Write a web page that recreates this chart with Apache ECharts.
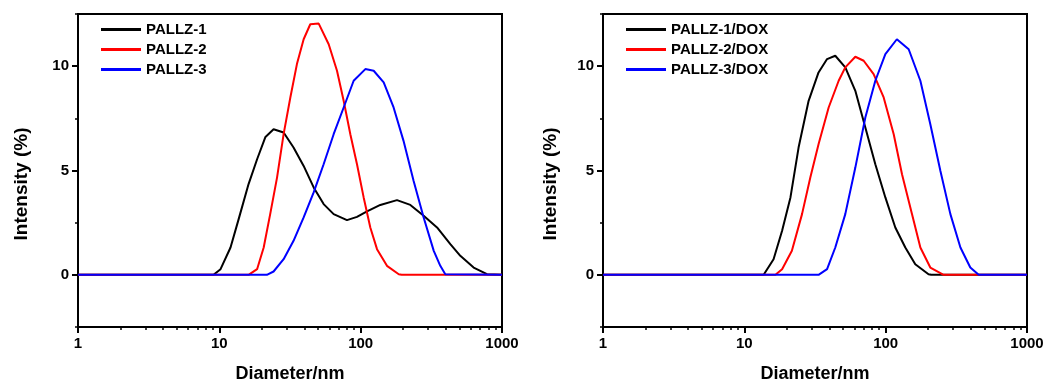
<!DOCTYPE html>
<html>
<head>
<meta charset="utf-8">
<script src="https://cdn.jsdelivr.net/npm/echarts@6/dist/echarts.min.js"></script>
<style>
html,body{margin:0;padding:0;background:#fff;}
#c{width:1049px;height:388px;}
</style>
</head>
<body>
<div id="c"></div>
<script>
// ---- Data (diameter nm, intensity %) ----
const pallz1 = [[1,0],[9.1,0],[10.2,0.27],[12.0,1.31],[13.7,2.67],[16.1,4.35],[18.5,5.54],[21.2,6.61],[24.2,6.98],[28.5,6.82],[33.5,6.1],[39.5,5.22],[46.5,4.19],[54.7,3.39],[64.4,2.91],[80,2.62],[94.2,2.78],[110.9,3.04],[137.7,3.35],[180.7,3.58],[224.6,3.35],[279,2.83],[347,2.27],[431,1.47],[507,0.91],[630,0.35],[783,0.03],[800,0],[1000,0]];
const pallz2 = [[1,0],[16.1,0],[18.5,0.27],[20.6,1.31],[22.9,2.91],[25.6,4.66],[28.5,6.74],[31.8,8.5],[35.4,10.1],[39.5,11.29],[44.0,12.01],[50.5,12.04],[59.4,11.05],[68,9.78],[75.8,8.34],[84.5,6.74],[94.2,5.3],[105,3.71],[117,2.27],[130.5,1.23],[153.5,0.43],[186,0.03],[195,0],[1000,0]];
const pallz3 = [[1,0],[21.7,0],[24.2,0.16],[28.5,0.75],[33.5,1.63],[39.5,2.75],[46.5,3.95],[54.7,5.3],[64.4,6.74],[75.8,8.02],[89.2,9.3],[107.9,9.86],[123.6,9.78],[145.5,9.22],[171,8.02],[201,6.42],[237,4.5],[279,2.75],[329,1.15],[366,0.43],[397,0.03],[410,0],[1000,0]];
const dox1 = [[1,0],[13.7,0],[16.1,0.75],[18.5,2.11],[21.2,3.71],[24.2,6.1],[28.5,8.34],[33.5,9.7],[38.5,10.34],[44.0,10.5],[51.8,9.94],[61,8.82],[71.8,7.06],[84.5,5.3],[99.5,3.71],[117,2.27],[137.7,1.31],[162,0.51],[201,0.03],[210,0],[1000,0]];
const dox2 = [[1,0],[16.6,0],[18.5,0.27],[21.7,1.15],[25.6,2.91],[29.3,4.66],[33.5,6.26],[39.5,8.02],[46.5,9.3],[51.8,9.94],[61,10.45],[69.9,10.26],[82.2,9.62],[96.8,8.5],[114,6.74],[130.5,4.82],[153.5,2.91],[176,1.31],[207,0.35],[257,0],[1000,0]];
const dox3 = [[1,0],[33.5,0],[38.5,0.27],[44,1.31],[51.8,2.91],[61,5.14],[71.8,7.54],[84.5,9.3],[99.5,10.58],[120,11.29],[145.5,10.81],[176,9.3],[207,7.22],[244,4.98],[287,2.91],[338,1.31],[397,0.35],[455,0],[1000,0]];

const namesLeft = ['PALLZ-1','PALLZ-2','PALLZ-3'];
const namesRight = ['PALLZ-1/DOX','PALLZ-2/DOX','PALLZ-3/DOX'];
const colors = ['#000000','#ff0000','#0000ff'];
const yMajor = [0,5,10];
const xMinor = [2,3,4,5,6,7,8,9,20,30,40,50,60,70,80,90,200,300,400,500,600,700,800,900];

const FONT = 'Liberation Sans';
const grids = [
  {left:78, top:14, width:424, height:313, show:true, borderColor:'#000', borderWidth:2, backgroundColor:'transparent'},
  {left:603, top:14, width:424, height:313, show:true, borderColor:'#000', borderWidth:2, backgroundColor:'transparent'}
];

function xAxes(gi){
  return [
    {type:'log', logBase:10, min:1, max:1000, gridIndex:gi, position:'bottom',
     name:'Diameter/nm', nameLocation:'middle', nameGap:38,
     nameTextStyle:{fontFamily:FONT, fontWeight:'bold', fontSize:18, color:'#000'},
     axisLine:{onZero:false, lineStyle:{color:'#000', width:2}},
     axisTick:{inside:false, length:6, lineStyle:{color:'#000', width:2}},
     axisLabel:{fontFamily:FONT, fontWeight:'bold', fontSize:15, color:'#000', margin:9,
       formatter:function(v){return String(Math.round(v));}},
     splitLine:{show:false}},
    {type:'log', logBase:10, min:1, max:1000, gridIndex:gi, position:'bottom',
     axisLine:{show:false, onZero:false},
     axisTick:{show:true, length:3, customValues:xMinor, lineStyle:{color:'#000', width:1.5}},
     axisLabel:{show:false}, splitLine:{show:false}}
  ];
}
function yAxes(gi){
  return [
    {type:'value', min:-2.5, max:12.5, interval:2.5, gridIndex:gi, position:'left',
     axisLine:{show:true, onZero:false, lineStyle:{color:'#000', width:2}},
     axisTick:{show:true, length:6, customValues:yMajor, lineStyle:{color:'#000', width:2}},
     axisLabel:{customValues:yMajor, fontFamily:FONT, fontWeight:'bold', fontSize:15, color:'#000', margin:9},
     splitLine:{show:false}},
    {type:'value', min:-2.5, max:12.5, interval:2.5, gridIndex:gi, position:'left', offset:0,
     axisLine:{show:false, onZero:false},
     axisTick:{show:true, length:3, lineStyle:{color:'#000', width:1.5}},
     axisLabel:{show:false}, splitLine:{show:false}}
  ];
}

function mkSeries(name, data, color, xi, yi){
  return {name:name, type:'line', data:data, xAxisIndex:xi, yAxisIndex:yi,
    symbol:'none', showSymbol:false, smooth:false,
    lineStyle:{color:color, width:2}, itemStyle:{color:color}, animation:false};
}

const legendText = {fontFamily:FONT, fontWeight:'bold', fontSize:15, color:'#000'};
const option = {
  animation:false,
  backgroundColor:'#fff',
  grid: grids,
  xAxis: xAxes(0).concat(xAxes(1)),
  yAxis: yAxes(0).concat(yAxes(1)),
  legend: [
    {data:namesLeft, orient:'vertical', left:101, top:22, padding:0, icon:'rect', itemWidth:40, itemHeight:3, itemGap:5, itemTextGap:5, textStyle:legendText},
    {data:namesRight, orient:'vertical', left:626, top:22, padding:0, icon:'rect', itemWidth:40, itemHeight:3, itemGap:5, itemTextGap:5, textStyle:legendText}
  ],
  graphic: [
    {type:'text', x:21.5, y:184, rotation:Math.PI/2, style:{text:'Intensity (%)', fontFamily:FONT, fontWeight:'bold', fontSize:19, fill:'#000', align:'center', verticalAlign:'middle'}},
    {type:'text', x:550.5, y:184, rotation:Math.PI/2, style:{text:'Intensity (%)', fontFamily:FONT, fontWeight:'bold', fontSize:19, fill:'#000', align:'center', verticalAlign:'middle'}}
  ],
  series: [
    mkSeries(namesLeft[0], pallz1, colors[0], 0, 0),
    mkSeries(namesLeft[1], pallz2, colors[1], 0, 0),
    mkSeries(namesLeft[2], pallz3, colors[2], 0, 0),
    mkSeries(namesRight[0], dox1, colors[0], 2, 2),
    mkSeries(namesRight[1], dox2, colors[1], 2, 2),
    mkSeries(namesRight[2], dox3, colors[2], 2, 2)
  ]
};
const chart = echarts.init(document.getElementById('c'), null, {renderer:'canvas'});
chart.setOption(option);
</script>
</body>
</html>
